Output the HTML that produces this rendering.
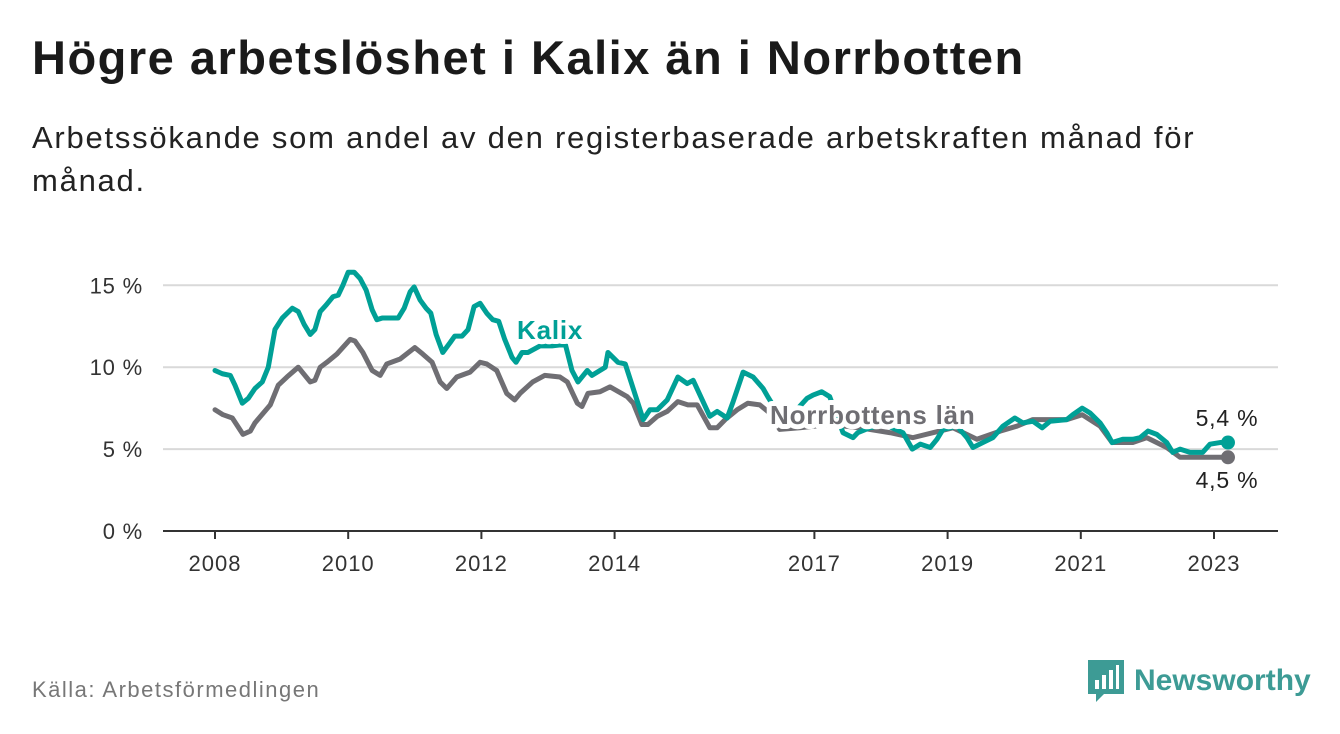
<!DOCTYPE html>
<html><head><meta charset="utf-8"><style>
body{margin:0;width:1340px;height:734px;background:#fff;font-family:"Liberation Sans","DejaVu Sans",sans-serif;overflow:hidden;position:relative}
h1{position:absolute;left:32px;top:30px;margin:0;font-size:47px;font-weight:bold;color:#1a1a1a;letter-spacing:1.5px}
.sub{position:absolute;left:32px;top:116px;width:1220px;font-size:31px;line-height:43px;color:#222;letter-spacing:1.75px}
.src{position:absolute;left:32px;top:677px;font-size:22px;color:#777;letter-spacing:1.5px}
.logo{position:absolute;left:1088px;top:660px;display:flex;align-items:center;gap:10px;color:#3d9b95;font-size:30px;font-weight:bold}
svg{position:absolute;left:0;top:0}
</style></head><body>
<h1>Högre arbetslöshet i Kalix än i Norrbotten</h1>
<div class="sub">Arbetssökande som andel av den registerbaserade arbetskraften månad för månad.</div>
<div class="src">Källa: Arbetsförmedlingen</div>
<div class="logo"><svg style="position:static" width="36" height="42" viewBox="0 0 36 42"><path d="M0 0H36V34H16L8 42V34H0Z" fill="#3d9b95"/><rect x="7" y="20" width="4" height="9" fill="#fff"/><rect x="14" y="15" width="4" height="14" fill="#fff"/><rect x="21" y="10" width="4" height="19" fill="#fff"/><rect x="28" y="5" width="3" height="24" fill="#fff"/></svg><span>Newsworthy</span></div>
<svg id="chart" width="1340" height="734"></svg>
<script>
const yTicks=[0,5,10,15];
const xTicks=[2008,2010,2012,2014,2017,2019,2021,2023];
const kalixDates=[2008.0,2008.11,2008.23,2008.30,2008.41,2008.50,2008.60,2008.71,2008.80,2008.90,2009.01,2009.16,2009.25,2009.34,2009.43,2009.50,2009.58,2009.67,2009.77,2009.85,2009.92,2010.0,2010.09,2010.18,2010.27,2010.36,2010.43,2010.51,2010.63,2010.75,2010.84,2010.93,2010.99,2011.08,2011.17,2011.24,2011.32,2011.42,2011.53,2011.60,2011.71,2011.80,2011.89,2011.98,2012.08,2012.17,2012.26,2012.35,2012.46,2012.52,2012.61,2012.70,2012.79,2012.88,2013.06,2013.26,2013.36,2013.45,2013.59,2013.66,2013.86,2013.90,2014.05,2014.16,2014.43,2014.53,2014.64,2014.79,2014.95,2015.09,2015.18,2015.43,2015.54,2015.69,2015.78,2015.93,2016.08,2016.23,2016.30,2016.48,2016.71,2016.89,2016.98,2017.11,2017.23,2017.43,2017.58,2017.65,2017.83,2018.06,2018.33,2018.47,2018.59,2018.74,2018.84,2018.93,2019.14,2019.29,2019.38,2019.53,2019.68,2019.83,2020.01,2020.13,2020.28,2020.42,2020.54,2020.79,2020.88,2021.02,2021.14,2021.29,2021.39,2021.47,2021.63,2021.78,2021.89,2022.01,2022.14,2022.29,2022.38,2022.49,2022.64,2022.83,2022.94,2023.09,2023.21];
const kalixValues=[9.8,9.6,9.5,8.9,7.8,8.1,8.7,9.1,10.0,12.3,13.0,13.6,13.4,12.6,12.0,12.3,13.4,13.8,14.3,14.4,15.0,15.8,15.8,15.4,14.7,13.5,12.9,13.0,13.0,13.0,13.6,14.6,14.9,14.1,13.6,13.3,12.0,10.9,11.5,11.9,11.9,12.3,13.7,13.9,13.3,12.9,12.8,11.7,10.6,10.3,10.9,10.9,11.1,11.3,11.3,11.4,9.8,9.1,9.8,9.5,10.0,10.9,10.3,10.2,6.8,7.4,7.4,8.0,9.4,9.0,9.2,7.0,7.3,6.9,7.9,9.7,9.4,8.7,8.2,7.0,7.3,8.1,8.3,8.5,8.2,6.0,5.7,6.0,6.3,6.5,6.0,5.0,5.3,5.1,5.6,6.2,6.4,5.7,5.1,5.4,5.7,6.4,6.9,6.6,6.7,6.3,6.7,6.8,7.1,7.5,7.2,6.6,6.0,5.4,5.6,5.6,5.7,6.1,5.9,5.4,4.8,5.0,4.8,4.8,5.3,5.4,5.4];
const norrDates=[2008.0,2008.12,2008.26,2008.42,2008.53,2008.60,2008.83,2008.95,2009.08,2009.25,2009.43,2009.50,2009.58,2009.68,2009.83,2010.03,2010.10,2010.22,2010.36,2010.48,2010.58,2010.78,2011.00,2011.12,2011.26,2011.38,2011.48,2011.63,2011.83,2011.98,2012.08,2012.23,2012.38,2012.50,2012.58,2012.77,2012.95,2013.18,2013.29,2013.44,2013.51,2013.60,2013.78,2013.93,2014.19,2014.28,2014.41,2014.50,2014.64,2014.79,2014.95,2015.10,2015.24,2015.43,2015.54,2015.66,2015.84,2016.00,2016.18,2016.33,2016.48,2016.78,2017.23,2017.68,2018.14,2018.48,2018.78,2019.08,2019.44,2019.79,2020.04,2020.28,2020.79,2021.02,2021.29,2021.47,2021.78,2021.99,2022.29,2022.49,2022.79,2023.05,2023.21];
const norrValues=[7.4,7.1,6.9,5.9,6.1,6.6,7.7,8.9,9.4,10.0,9.1,9.2,10.0,10.3,10.8,11.7,11.6,10.9,9.8,9.5,10.2,10.5,11.2,10.8,10.3,9.1,8.7,9.4,9.7,10.3,10.2,9.8,8.4,8.0,8.4,9.1,9.5,9.4,9.1,7.8,7.6,8.4,8.5,8.8,8.2,7.8,6.5,6.5,7.0,7.3,7.9,7.7,7.7,6.3,6.3,6.8,7.4,7.8,7.7,7.2,6.2,6.3,6.5,6.3,6.0,5.7,6.0,6.3,5.6,6.1,6.4,6.8,6.8,7.1,6.4,5.4,5.4,5.7,5.1,4.5,4.5,4.5,4.5];
const NS="http://www.w3.org/2000/svg";
const svg=document.getElementById('chart');
const X=t=>215+(t-2008)*66.6;
const Y=v=>531-v*16.38;
function mk(tag,attrs){const e=document.createElementNS(NS,tag);for(const k in attrs)e.setAttribute(k,attrs[k]);svg.appendChild(e);return e;}
yTicks.forEach(v=>{
  if(v>0){const g=mk('line',{x1:163,x2:1278,y1:Y(v),y2:Y(v),stroke:'#d9d9d9','stroke-width':2});
  
  }
  const t=mk('text',{x:143,y:Y(v)+8,'text-anchor':'end','font-size':22,fill:'#333','letter-spacing':0.8});
  t.textContent=v+' %';
  
  
});
const ax=mk('line',{x1:163,x2:1278,y1:531,y2:531,stroke:'#333','stroke-width':2});


xTicks.forEach(yr=>{
  const tk=mk('line',{x1:X(yr),x2:X(yr),y1:531,y2:539,stroke:'#333','stroke-width':2});
  
  
  const t=mk('text',{x:X(yr),y:571,'text-anchor':'middle','font-size':22,fill:'#333','letter-spacing':1});
  t.textContent=yr;
  
  
});
function line(d,v,c,name){
  const p=mk('polyline',{points:d.map((t,i)=>X(t)+','+Y(v[i])).join(' '),fill:'none',stroke:c,'stroke-width':5,'stroke-linejoin':'round','stroke-linecap':'round'});
  
  
  const n=d.length-1;
  const dot=mk('circle',{cx:X(d[n]),cy:Y(v[n]),r:7,fill:c});
  
  
}
line(norrDates,norrValues,'#6f6e73','norrbotten-line');
line(kalixDates,kalixValues,'#00a096','kalix-line');
function lab(x,y,txt,c,name){
  const t=mk('text',{x:x,y:y,'font-size':26,'font-weight':'bold',fill:c,stroke:'#fff','stroke-width':10,'paint-order':'stroke','stroke-linejoin':'round','letter-spacing':0.8});
  t.textContent=txt;
  
  
}
lab(517,339,'Kalix','#00a096','kalix-label');
lab(770,424,'Norrbottens län','#6f6e73','norrbotten-label');
const kv=kalixValues[kalixValues.length-1], nv=norrValues[norrValues.length-1];
const e1=mk('text',{x:1227,y:426,'text-anchor':'middle','font-size':23,fill:'#222','letter-spacing':0.8});
e1.textContent=String(kv).replace('.',',')+' %';


const e2=mk('text',{x:1227,y:488,'text-anchor':'middle','font-size':23,fill:'#222','letter-spacing':0.8});
e2.textContent=String(nv).replace('.',',')+' %';


</script>
</body></html>
